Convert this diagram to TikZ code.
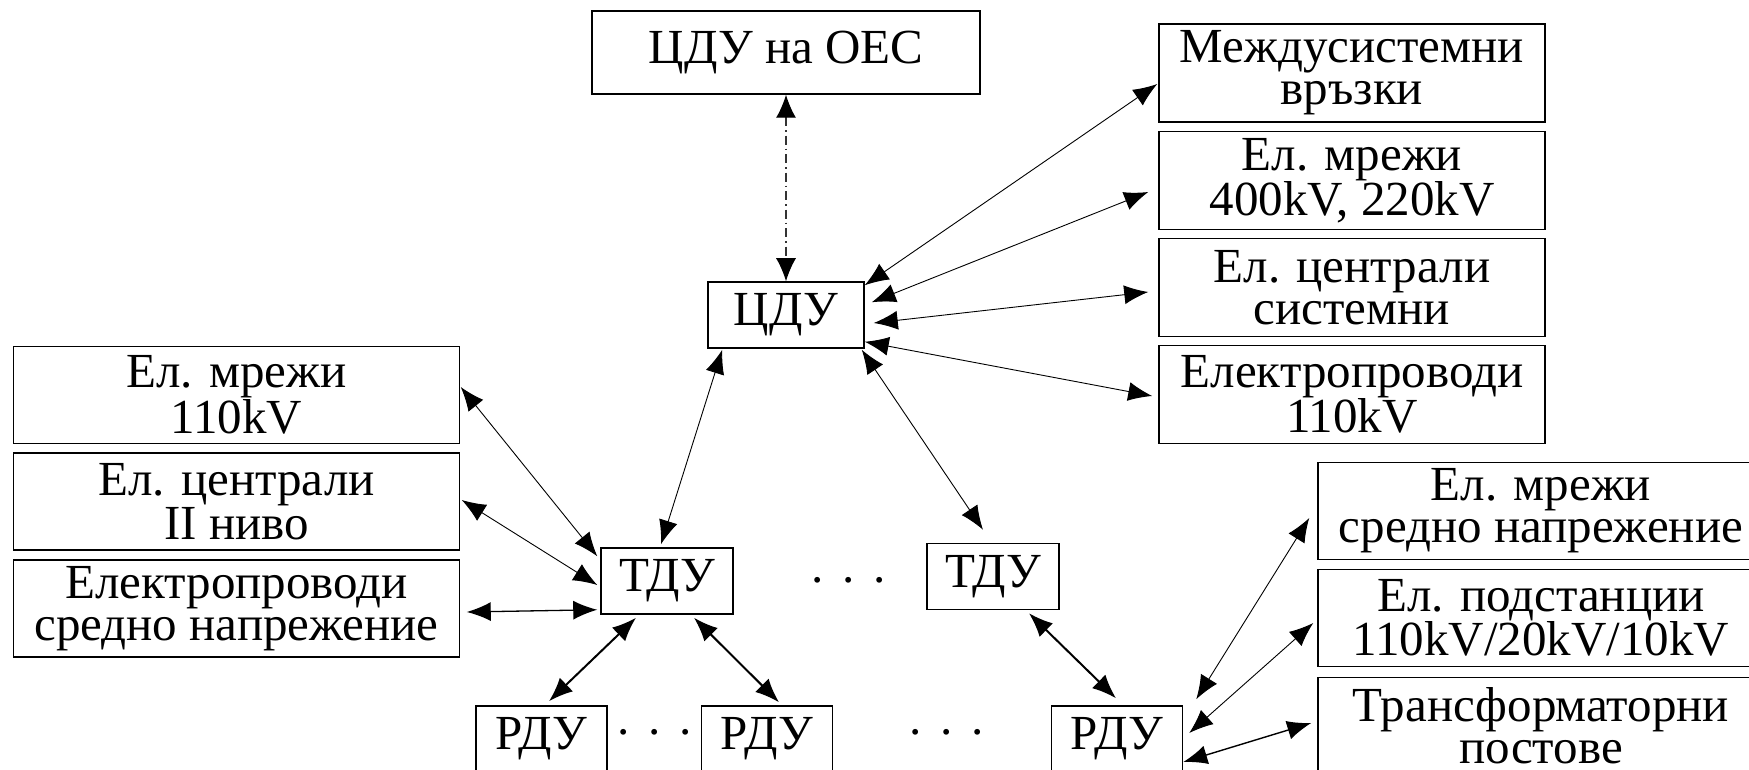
\documentclass[tikz,border=0pt]{standalone}
\usepackage{fontspec}
\newfontfamily\diagfont{Liberation Serif}
\usetikzlibrary{arrows.meta}
\begin{document}
\begin{tikzpicture}[x=1pt,y=-1pt,
  box/.style={draw, line width=1.5pt, inner sep=0pt, align=center,
    font=\diagfont\fontsize{49}{42}\selectfont},
  wide/.style={box, minimum width=446pt, minimum height=97pt},
  side/.style={box, minimum width=386pt, minimum height=98pt},
  unit/.style={box, minimum width=132pt, minimum height=66pt},
  dots/.style={inner sep=0pt, anchor=base, font=\diagfont\fontsize{49}{42}\selectfont},
  link/.style={arrows={Latex[length=24pt,width=19pt]-Latex[length=24pt,width=19pt]}, line width=0.9pt},
  boldlink/.style={link, line width=2pt},
  dashlink/.style={arrows={Latex[length=23pt,width=20pt,color=black]-Latex[length=23pt,width=20pt,color=black]},
    line width=1.2pt, black!80, dash pattern=on 9pt off 4pt on 1.5pt off 4pt}
]
\useasboundingbox (0,0) rectangle (1749,770);
\clip (0,0) rectangle (1749,770);

% central dispatch levels
\node[box, minimum width=388pt, minimum height=83pt] (oes) at (786,52.5) {ЦДУ на ОЕС};
\node[box, minimum width=156pt, minimum height=66pt] (cdu) at (786,315) {ЦДУ};

% objects controlled by the central dispatch
\node[side] (r1) at (1352,73)    {Междусистемни\\връзки};
\node[side] (r2) at (1352,180.5) {Ел. мрежи\\400kV, 220kV};
\node[side] (r3) at (1352,287.5) {Ел. централи\\системни};
\node[side] (r4) at (1352,394.5) {Електропроводи\\110kV};

% objects controlled by a territorial dispatch
\node[wide] (l1) at (236.5,395)   {Ел. мрежи\\110kV};
\node[wide] (l2) at (236.5,501.5) {Ел. централи\\II ниво};
\node[wide] (l3) at (236.5,608.5) {Електропроводи\\средно напрежение};

% territorial and regional dispatch centres
\node[unit] (tdu1) at (667,581)   {ТДУ};
\node[unit] (tdu2) at (993,576.5) {ТДУ};
\node[unit, minimum width=131pt] (rdu1) at (541.5,739) {РДУ};
\node[unit, minimum width=131pt] (rdu2) at (767,739)   {РДУ};
\node[unit, minimum width=131pt] (rdu3) at (1117,739)  {РДУ};

\node[dots] (d1) at (849,596) {·\hspace{0.3em}·\hspace{0.3em}·};
\node[dots] (d2) at (655,748) {·\hspace{0.3em}·\hspace{0.3em}·};
\node[dots] (d3) at (947,748) {·\hspace{0.3em}·\hspace{0.3em}·};

% objects controlled by a regional dispatch
\node[wide] (b1) at (1541,511) {Ел. мрежи\\средно напрежение};
\node[wide] (b2) at (1541,618) {Ел. подстанции\\110kV/20kV/10kV};
\node[wide] (b3) at (1541,726) {Трансформаторни\\постове};

% connections
\draw[dashlink] (oes.south) -- (cdu.north);

\draw[link] ([shift={(0,4)}]cdu.north east) -- ([shift={(-1,11)}]r1.west);
\draw[link] ([shift={(7,21)}]cdu.north east) -- ([shift={(-10,11.5)}]r2.west);
\draw[link] ([shift={(9,8)}]cdu.east) -- ([shift={(-10,4.5)}]r3.west);
\draw[link] ([shift={(0,-7)}]cdu.south east) -- ([shift={(-6,1.5)}]r4.west);

\draw[link] ([shift={(15,1)}]cdu.south west) -- ([shift={(-6,-3)}]tdu1.north);
\draw[link] ([shift={(-3,1)}]cdu.south east) -- ([shift={(-10,-13)}]tdu2.north);

\draw[link] ([shift={(0.5,-8)}]l1.east) -- ([shift={(-3,9)}]tdu1.north west);
\draw[link] ([shift={(1.5,-1.5)}]l2.east) -- ([shift={(-3,4)}]tdu1.west);
\draw[link, line width=1.3pt] ([shift={(6.5,3.5)}]l3.east) -- ([shift={(-3,-5)}]tdu1.south west);

\draw[boldlink] ([shift={(-31,3)}]tdu1.south) -- ([shift={(7.5,-4)}]rdu1.north);
\draw[boldlink] ([shift={(27,3)}]tdu1.south) -- ([shift={(12,-3)}]rdu2.north);
\draw[boldlink] ([shift={(36,3)}]tdu2.south) -- ([shift={(-1,-7)}]rdu3.north);

\draw[link] ([shift={(13,-6)}]rdu3.north east) -- ([shift={(-8,7)}]b1.west);
\draw[link] ([shift={(6,-6)}]rdu3.east) -- ([shift={(-4,5)}]b2.west);
\draw[link, line width=1.4pt] ([shift={(0,23)}]rdu3.east) -- ([shift={(-6,-3)}]b3.west);
\end{tikzpicture}
\end{document}
